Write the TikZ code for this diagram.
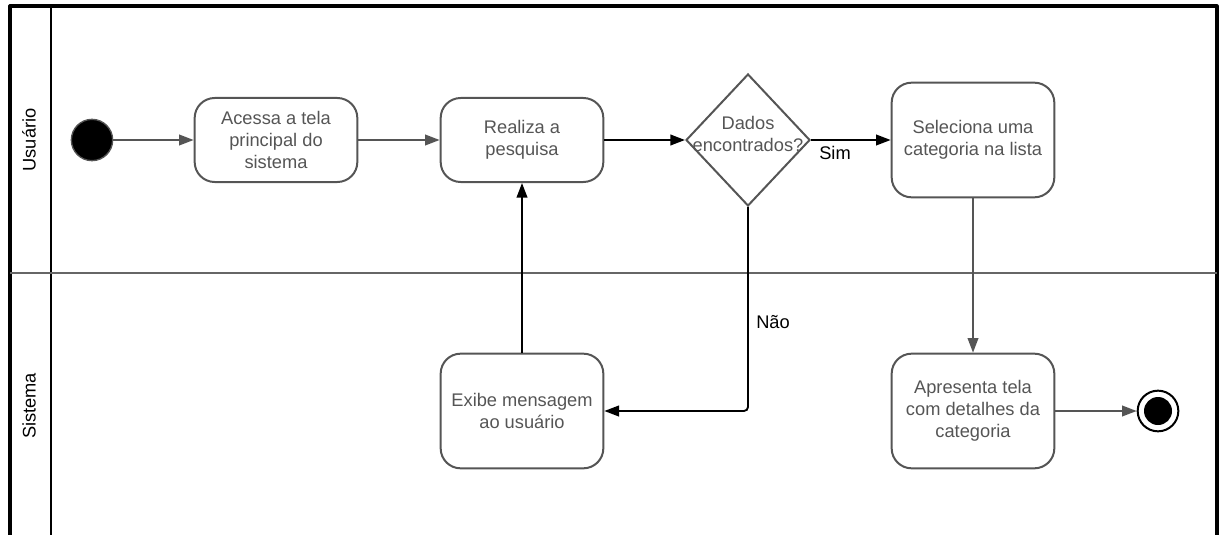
\documentclass[tikz,border=0pt]{standalone}
\usepackage{fontspec}
\setmainfont{Liberation Sans}
\usetikzlibrary{shapes.geometric,arrows.meta}
\definecolor{ink}{HTML}{555555}
\definecolor{rule}{HTML}{666666}
\begin{document}
\begin{tikzpicture}[x=0.75pt,y=-0.75pt,
  txt/.style={font=\fontsize{13.7}{16.7}\selectfont},
  act/.style={txt, draw=ink, line width=1.5pt, rounded corners=15pt, text=ink,
    align=center, minimum width=122pt, minimum height=63pt, inner sep=0pt},
  tall/.style={act, minimum height=86pt},
  flowg/.style={draw=ink, line width=1.4pt, -{Triangle[length=11pt,width=8pt]}},
  flowk/.style={draw=black, line width=1.4pt, -{Triangle[length=11pt,width=8pt]}},
  lane/.style={txt, rotate=90, text=black},
  ]
\useasboundingbox (0,0) rectangle (1221,535);
\clip (0,0) rectangle (1221,535);

% pool frame and lanes
\draw[line width=2.4pt, line join=round] (10,545) -- (10,6) -- (1217,6) -- (1217,545);
\draw[line width=1.5pt] (51,6) -- (51,545);
\draw[rule, line width=1.6pt] (10,273) -- (1217,273);
\node[lane] (laneU) at (29,140) {Usuário};
\node[lane] (laneS) at (29,406) {Sistema};

% activities
\node[circle, fill=black, draw=ink, line width=1pt, minimum size=31pt, inner sep=0pt] (start) at (92,140) {};
\node[act] (acessa) at (276,140) {Acessa a tela\\principal do\\sistema};
\node[act] (realiza) at (522,140) {Realiza a\\pesquisa};
\node[diamond, draw=ink, line width=1.5pt, minimum width=93pt, minimum height=99pt, inner sep=0pt] (dec) at (748,140) {};
\node[txt, text=ink, align=center] (dectext) at (748,134) {Dados\\encontrados?};
\node[tall] (seleciona) at (973,140) {Seleciona uma\\categoria na lista};
\node[tall] (exibe) at (522,411) {Exibe mensagem\\ao usuário};
\node[tall] (apresenta) at (973,411) {Apresenta tela\\com detalhes da\\categoria};
\node[circle, draw=black, line width=1.5pt, minimum size=30.5pt, inner sep=0pt] (fim) at (1158,411) {};
\node[circle, fill=black, minimum size=21pt, inner sep=0pt] (fimdot) at (fim.center) {};

% flows
\draw[flowg] (start) -- (acessa);
\draw[flowg] (acessa) -- (realiza);
\draw[flowk] (realiza.east) -- (dec.west);
\draw[flowk] (dec.east) -- (seleciona.west);
\node[txt, text=black] (sim) at (835,153) {Sim};
\draw[flowk, rounded corners=3pt] (dec.south) |- (exibe.east);
\node[txt, text=black] (nao) at (773,322) {Não};
\draw[flowk] (exibe.north) -- (realiza.south);
\draw[flowg] (seleciona.south) -- (apresenta.north);
\draw[flowg] (apresenta.east) -- (fim.west);
\end{tikzpicture}
\end{document}
